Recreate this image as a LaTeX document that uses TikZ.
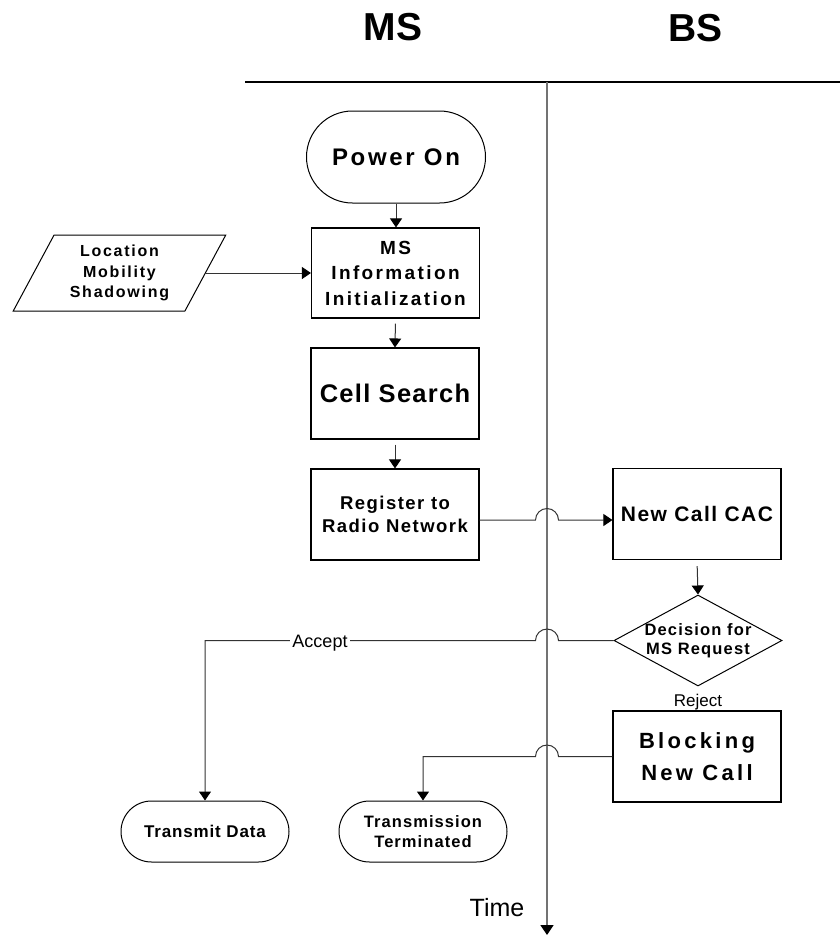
\documentclass[tikz,border=0pt]{standalone}
\usepackage{fontspec}
\setmainfont{Liberation Sans}
\usepackage{tikz}
\usetikzlibrary{arrows.meta, positioning, shapes.geometric, shapes.misc}

\newcommand{\boxfont}[3]{\fontsize{#1}{#2}\selectfont\bfseries\addfontfeature{LetterSpace=#3}}

\tikzset{
	procbox/.style = {draw, line width=1.1pt, rectangle, minimum width=168pt, minimum height=91pt, inner sep=0pt, align=center},
	termbox/.style = {draw, line width=1pt, rounded rectangle, inner sep=0pt, align=center},
	iobox/.style = {draw, line width=1pt, trapezium, trapezium left angle=61, trapezium right angle=119, trapezium stretches=true, minimum width=213pt, minimum height=76pt, inner sep=0pt, align=center},
	decbox/.style = {draw, line width=1pt, diamond, minimum width=168pt, minimum height=91pt, inner sep=0pt},
	flow/.style = {line width=1pt, draw=black!80, -{Triangle[width=12pt, length=9pt, color=black]}},
	plainlbl/.style = {inner sep=2pt}
}

\begin{document}
\begin{tikzpicture}[x=1pt, y=-1pt]
	\useasboundingbox (0,0) rectangle (840,937);

	\node[font=\boxfont{39}{42}{3}] (mslbl) at (393,27.5) {MS};
	\node[font=\boxfont{39}{42}{0}] (bslbl) at (695.5,28.5) {BS};

	\coordinate (hleft) at (245,82);
	\coordinate (hright) at (840,82);
	\coordinate (axtop) at (547,82);
	\coordinate (axbot) at (547,935);
	\draw[line width=1.2pt] (hleft) -- (hright);
	\draw[line width=1.5pt, draw=black!55, -{Triangle[width=13pt, length=10pt, color=black]}] (axtop) -- (axbot);
	\node[plainlbl, font=\fontsize{25}{28}\selectfont] (timelbl) at (497,908) {Time};

	\node[termbox, minimum width=179pt, minimum height=92pt, font=\boxfont{24}{28}{11}] (power) at (396,157) {Power On};
	\node[procbox, minimum height=90pt, font=\boxfont{19}{25.5}{12.5}] (init) at (395.5,273) {MS\\Information\\Initialization};
	\node[iobox, font=\boxfont{16}{20.5}{11}] (env) at (119.5,273) {Location\\Mobility\\Shadowing};
	\node[procbox, font=\boxfont{25.5}{28}{5}] (search) at (395,393.5) {Cell Search};
	\node[procbox, font=\boxfont{18.5}{23}{8}] (reg) at (395,514.5) {Register to\\Radio Network};

	\node[procbox, font=\boxfont{21}{24}{7}] (cac) at (697,514) {New Call CAC};
	\node[decbox] (dec) at (698,640.5) {};
	\node[plainlbl, inner sep=0pt, align=center, font=\boxfont{16.5}{19}{7}] (dectext) at (dec) {Decision for\\MS Request};
	\node[plainlbl, font=\fontsize{17}{19}\selectfont] (rejlbl) at (698,702) {Reject};
	\node[procbox, font=\boxfont{22}{32}{15}] (block) at (697,756.5) {Blocking\\New Call};

	\node[termbox, minimum width=168pt, minimum height=61pt, font=\boxfont{17}{20}{5}] (tx) at (205,831.5) {Transmit Data};
	\node[termbox, minimum width=168pt, minimum height=61pt, font=\boxfont{16.5}{20}{6.5}] (term) at (423,831.5) {Transmission\\Terminated};

	\draw[flow] (power.south) -- (power.south |- init.north);
	\draw[flow] (env.right side) -- (env.right side -| init.west);
	\draw[flow, shorten <=5pt] (init.south) -- (search.north);
	\draw[flow, shorten <=5pt] (search.south) -- (reg.north);

	\coordinate (regout) at ([yshift=-5.5pt]reg.east);
	\coordinate (jumpa) at (axtop |- regout);
	\draw[flow] (regout) -- ([xshift=-11.5pt]jumpa) arc[start angle=180, end angle=0, radius=11.5pt] -- (regout -| cac.west);
	\draw[flow, shorten <=6pt] (cac.south) -- (dec.north);

	\coordinate (jumpb) at (axtop |- dec.west);
	\draw[flow] (dec.west) -- ([xshift=11.5pt]jumpb) arc[start angle=0, end angle=180, radius=11.5pt] -- (dec.west -| tx.north) -- (tx.north);
	\node[plainlbl, fill=white, font=\fontsize{18}{20}\selectfont] (acclbl) at (320,643) {Accept};

	\coordinate (jumpc) at (axtop |- block.west);
	\draw[flow] (block.west) -- ([xshift=11.5pt]jumpc) arc[start angle=0, end angle=180, radius=11.5pt] -- (block.west -| term.north) -- (term.north);
\end{tikzpicture}
\end{document}
